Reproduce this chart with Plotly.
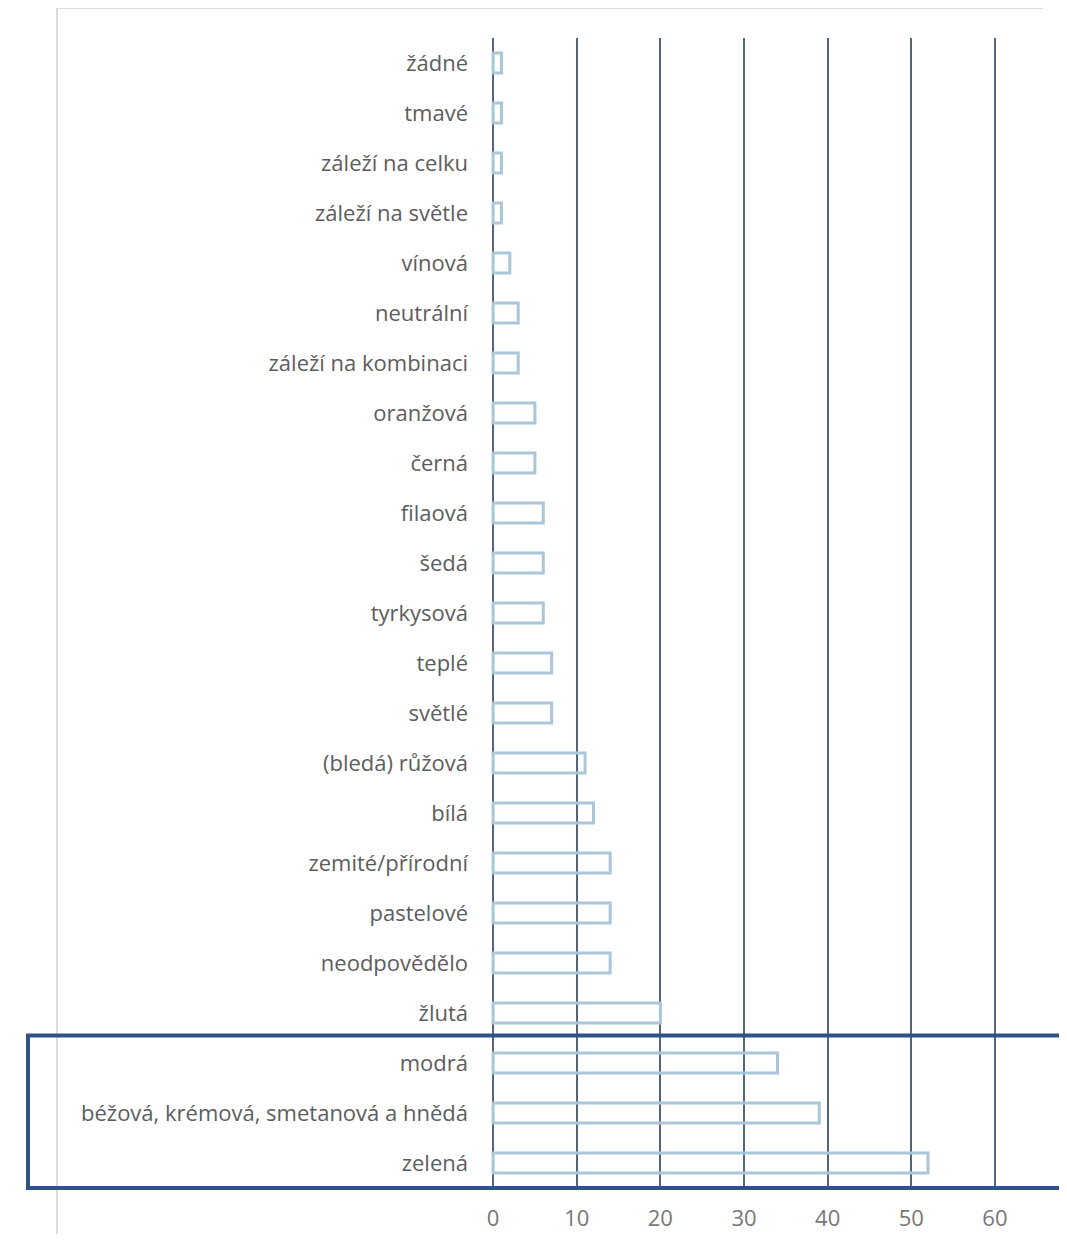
import plotly.graph_objects as go

categories = [
    "žádné", "tmavé", "záleží na celku", "záleží na světle", "vínová",
    "neutrální", "záleží na kombinaci", "oranžová", "černá", "filaová",
    "šedá", "tyrkysová", "teplé", "světlé", "(bledá) růžová", "bílá",
    "zemité/přírodní", "pastelové", "neodpovědělo", "žlutá", "modrá",
    "béžová, krémová, smetanová a hnědá", "zelená",
]
values = [1, 1, 1, 1, 2, 3, 3, 5, 5, 6, 6, 6, 7, 7, 11, 12, 14, 14, 14, 20, 34, 39, 52]
x_ticks = [0, 10, 20, 30, 40, 50, 60]
highlighted = ["modrá", "béžová, krémová, smetanová a hnědá", "zelená"]

OFF = 8  # page body margin
W, H = 1067 - OFF, 1242 - 2 * OFF
L, T = 491 - OFF, 38 - OFF
R = W - (997 - OFF)
B = H - (1190 - OFF)
pw, ph = W - L - R, H - T - B

def px_x(p):
    return (p - OFF - L) / pw

def px_y(p):
    return (H - B - (p - OFF)) / ph

fig = go.Figure(go.Bar(
    x=values, y=categories, orientation="h",
    width=0.4,
    marker=dict(color="rgba(0,0,0,0)", line=dict(color="#a9c7d8", width=3)),
))

i0 = categories.index(highlighted[0])
i1 = categories.index(highlighted[-1])

fig.update_layout(
    width=W, height=H,
    margin=dict(l=L, r=R, t=T, b=B, autoexpand=False),
    paper_bgcolor="white", plot_bgcolor="white",
    showlegend=False,
    font=dict(family="Open Sans, sans-serif", color="#666666"),
    xaxis=dict(
        range=[-0.25, 60.25], tickvals=x_ticks, showgrid=True,
        gridcolor="#56647a", gridwidth=1.6, zeroline=False, showline=False,
        tickfont=dict(size=22, color="#777777"), ticklabelstandoff=13,
        fixedrange=True, automargin=False,
    ),
    yaxis=dict(
        categoryorder="array", categoryarray=categories,
        autorange="reversed", showgrid=False, zeroline=False, showline=False,
        tickfont=dict(size=22, color="#5d5d5d"), ticklabelstandoff=22,
        automargin=False,
    ),
    shapes=[
        dict(type="line", xref="paper", yref="paper",
             x0=px_x(57), x1=px_x(57), y0=px_y(8), y1=px_y(1250),
             line=dict(color="#dcdcdc", width=2)),
        dict(type="line", xref="paper", yref="paper",
             x0=px_x(57), x1=px_x(1043), y0=px_y(8), y1=px_y(8),
             line=dict(color="#dcdcdc", width=2)),
        dict(type="rect", xref="paper", yref="y",
             x0=px_x(28), x1=px_x(1080), y0=i0 - 0.5 - 0.05, y1=i1 + 0.5,
             line=dict(color="#2f5289", width=4), fillcolor="rgba(0,0,0,0)",
             layer="above"),
    ],
)

fig.write_html("out.html")
